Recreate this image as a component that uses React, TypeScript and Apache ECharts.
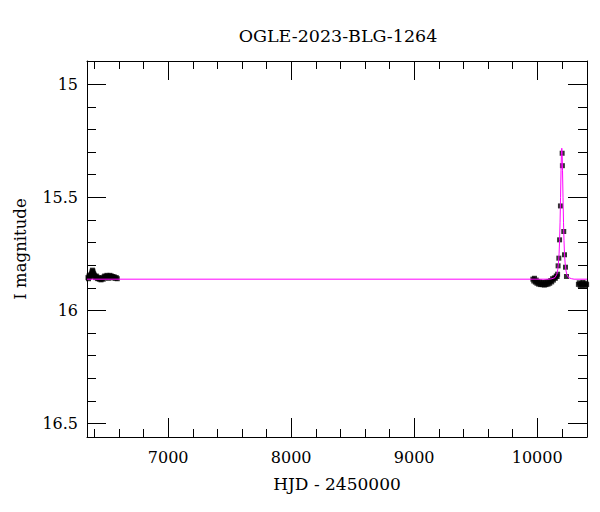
import React, { useEffect, useRef } from "react";
import * as echarts from "echarts";

const TITLE = "OGLE-2023-BLG-1264";
const X_NAME = "HJD - 2450000";
const Y_NAME = "I magnitude";

const X_MIN = 6340;
const X_MAX = 10405;
const Y_MIN = 14.897;
const Y_MAX = 16.56;

const xMajorTicks = [7000, 8000, 9000, 10000];
const xMinorTicks = [
  6400, 6600, 6800, 7200, 7400, 7600, 7800, 8200, 8400, 8600, 8800, 9200,
  9400, 9600, 9800, 10200,
];
const yMajorTicks = [15, 15.5, 16, 16.5];
const yMinorTicks = [
  15.1, 15.2, 15.3, 15.4, 15.6, 15.7, 15.8, 15.9, 16.1, 16.2, 16.3, 16.4,
];

// Observations: [HJD - 2450000, I mag]
const obsEarly: [number, number][] = [
  [6348, 15.855], [6352, 15.86], [6356, 15.848], [6360, 15.852], [6364, 15.845],
  [6368, 15.85], [6372, 15.842], [6376, 15.838], [6380, 15.83], [6384, 15.822],
  [6388, 15.826], [6392, 15.835], [6396, 15.84], [6400, 15.845], [6405, 15.85],
  [6410, 15.855], [6415, 15.848], [6420, 15.852], [6425, 15.858], [6430, 15.86],
  [6436, 15.855], [6442, 15.862], [6448, 15.858], [6454, 15.865], [6460, 15.86],
  [6466, 15.856], [6472, 15.862], [6478, 15.852], [6484, 15.848], [6490, 15.855],
  [6496, 15.85], [6502, 15.845], [6508, 15.852], [6514, 15.858], [6520, 15.85],
  [6526, 15.845], [6532, 15.852], [6538, 15.848], [6544, 15.855], [6550, 15.85],
  [6556, 15.856], [6562, 15.852], [6570, 15.858], [6578, 15.855], [6586, 15.86],
];

const obsLate: [number, number][] = [
  [9965, 15.862], [9972, 15.87], [9978, 15.858], [9985, 15.875], [9992, 15.866],
  [9998, 15.88], [10005, 15.872], [10012, 15.884], [10020, 15.874], [10028, 15.886],
  [10035, 15.878], [10042, 15.886], [10050, 15.876], [10058, 15.888], [10065, 15.878],
  [10072, 15.886], [10080, 15.874], [10088, 15.884], [10095, 15.872], [10102, 15.88],
  [10110, 15.868], [10118, 15.874], [10125, 15.86], [10132, 15.866], [10140, 15.856],
  [10148, 15.858], [10155, 15.848], [10162, 15.85], [10166, 15.84],
];

const obsPeak: [number, number][] = [
  [10170, 15.803], [10176, 15.769], [10182, 15.688], [10189, 15.538],
  [10203, 15.305], [10205, 15.36], [10216, 15.651], [10222, 15.754],
  [10230, 15.809], [10238, 15.85],
];

const obsEnd: [number, number][] = [
  [10335, 15.885], [10342, 15.878], [10350, 15.89], [10358, 15.882],
  [10365, 15.888], [10372, 15.876], [10380, 15.884], [10388, 15.89],
  [10396, 15.88], [10402, 15.886],
];

// Model curve
const modelCurve: [number, number][] = [
  [6340, 15.862], [10100, 15.862], [10120, 15.86], [10145, 15.855],
  [10160, 15.84], [10167, 15.82], [10173, 15.79], [10178, 15.75],
  [10182, 15.69], [10186, 15.61], [10190, 15.5], [10194, 15.38],
  [10197, 15.31], [10200, 15.283], [10203, 15.31], [10206, 15.38],
  [10210, 15.5], [10214, 15.61], [10218, 15.69], [10222, 15.75],
  [10227, 15.79], [10233, 15.82], [10240, 15.84], [10255, 15.855],
  [10280, 15.86], [10300, 15.862], [10405, 15.862],
];

const FONT = "DejaVu Serif";

export default function App() {
  const ref = useRef<HTMLDivElement>(null);
  useEffect(() => {
    if (!ref.current) return;
    const chart = echarts.init(ref.current, undefined, { renderer: "svg" });
    const lineStyle = { color: "#000", width: 1 };
    const mkX = (pos: "bottom" | "top", major: boolean, main: boolean) => ({
      type: "value",
      position: pos,
      min: X_MIN,
      max: X_MAX,
      axisLine: { show: main || major, onZero: false, lineStyle },
      axisTick: {
        show: true,
        inside: true,
        length: major ? 19 : 8,
        customValues: major ? xMajorTicks : xMinorTicks,
        lineStyle,
      },
      axisLabel: main
        ? {
            show: true,
            customValues: xMajorTicks,
            formatter: (v: number) => String(v),
            color: "#000",
            fontFamily: FONT,
            fontSize: 16,
            margin: 12,
          }
        : { show: false },
      splitLine: { show: false },
      name: main ? X_NAME : "",
      nameLocation: "middle",
      nameGap: 38,
      nameTextStyle: { color: "#000", fontFamily: FONT, fontSize: 17 },
    });
    const mkY = (pos: "left" | "right", major: boolean, main: boolean) => ({
      type: "value",
      position: pos,
      inverse: true,
      min: Y_MIN,
      max: Y_MAX,
      axisLine: { show: main || major, onZero: false, lineStyle },
      axisTick: {
        show: true,
        inside: true,
        length: major ? 19 : 9,
        customValues: major ? yMajorTicks : yMinorTicks,
        lineStyle,
      },
      axisLabel: main
        ? {
            show: true,
            customValues: yMajorTicks,
            formatter: (v: number) => String(v),
            color: "#000",
            fontFamily: FONT,
            fontSize: 16,
            margin: 9,
          }
        : { show: false },
      splitLine: { show: false },
      name: main ? Y_NAME : "",
      nameLocation: "middle",
      nameRotate: 90,
      nameGap: 58,
      nameTextStyle: { color: "#000", fontFamily: FONT, fontSize: 16.5 },
    });
    const scatterBase = {
      type: "scatter",
      xAxisIndex: 0,
      yAxisIndex: 0,
      symbol: "rect",
      symbolSize: [5, 5],
      itemStyle: { color: "#000" },
      z: 2,
    };
    chart.setOption({
      animation: false,
      backgroundColor: "#fff",
      title: {
        text: TITLE,
        left: 333,
        textAlign: "center",
        top: 22,
        textStyle: {
          color: "#000",
          fontFamily: FONT,
          fontSize: 17.5,
          fontWeight: "normal",
        },
      },
      grid: { left: 87, right: 13, top: 61, bottom: 75, containLabel: false },
      xAxis: [
        mkX("bottom", true, true),
        mkX("bottom", false, false),
        mkX("top", true, false),
        mkX("top", false, false),
      ],
      yAxis: [
        mkY("left", true, true),
        mkY("left", false, false),
        mkY("right", true, false),
        mkY("right", false, false),
      ],
      series: [
        { ...scatterBase, name: "early", data: obsEarly },
        { ...scatterBase, name: "late", data: obsLate },
        { ...scatterBase, name: "peak", data: obsPeak },
        { ...scatterBase, name: "end", data: obsEnd },
        {
          type: "line",
          name: "model",
          xAxisIndex: 0,
          yAxisIndex: 0,
          data: modelCurve,
          showSymbol: false,
          symbol: "none",
          lineStyle: { color: "#ff00ff", width: 1 },
          z: 5,
        },
      ],
    });
    return () => chart.dispose();
  }, []);
  return (
    <div
      ref={ref}
      style={{ position: "fixed", left: 0, top: 0, width: 600, height: 512 }}
    />
  );
}
